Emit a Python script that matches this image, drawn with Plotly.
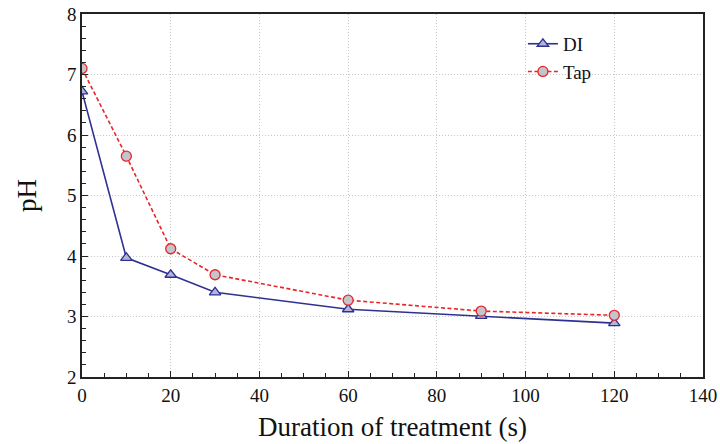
import plotly.graph_objects as go

x_vals = [0, 10, 20, 30, 60, 90, 120]
di_ph = [6.72, 3.97, 3.69, 3.40, 3.12, 3.01, 2.89]
tap_ph = [7.10, 5.65, 4.12, 3.69, 3.27, 3.09, 3.02]

fig = go.Figure()
fig.add_trace(go.Scatter(
    x=x_vals, y=di_ph, name="DI", mode="lines+markers",
    line=dict(color="#2e3192", width=1.6),
    marker=dict(symbol="triangle-up", size=10, color="#b4b4d6",
                line=dict(color="#2e3192", width=1.3)),
))
fig.add_trace(go.Scatter(
    x=x_vals, y=tap_ph, name="Tap", mode="lines+markers",
    line=dict(color="#e8262a", width=1.6, dash="4px,2.5px"),
    marker=dict(symbol="circle", size=10, color="#c4c4cc",
                line=dict(color="#e8262a", width=1.3)),
))

axis_common = dict(
    showline=True, linecolor="#222", linewidth=1.5, mirror=True,
    ticks="inside", ticklen=6, tickcolor="#222", tickwidth=1,
    showgrid=True, gridcolor="#c8c8c8", griddash="1px,2px", gridwidth=1,
    zeroline=False, automargin=False,
    tickfont=dict(family="Liberation Serif", size=19, color="#111"),
)

fig.update_xaxes(
    range=[0, 140], dtick=20, **axis_common,
    minor=dict(ticks="inside", ticklen=4, dtick=5, tickcolor="#222", showgrid=False),
    title=dict(text="Duration of treatment (s)",
               font=dict(family="Liberation Serif", size=27, color="#111"), standoff=13),
)
fig.update_yaxes(
    range=[2, 8], dtick=1, **axis_common,
    minor=dict(ticks="inside", ticklen=4, dtick=0.2, tickcolor="#222", showgrid=False),
    title=dict(text="pH",
               font=dict(family="Liberation Serif", size=27, color="#111"), standoff=23),
)

fig.update_layout(
    width=720, height=444,
    margin=dict(l=82, r=17, t=14, b=67),
    plot_bgcolor="white", paper_bgcolor="white",
    legend=dict(x=0.71, y=0.97, xanchor="left", yanchor="top",
                bgcolor="rgba(0,0,0,0)",
                font=dict(family="Liberation Serif", size=19, color="#111")),
)

fig.write_html("out.html")
